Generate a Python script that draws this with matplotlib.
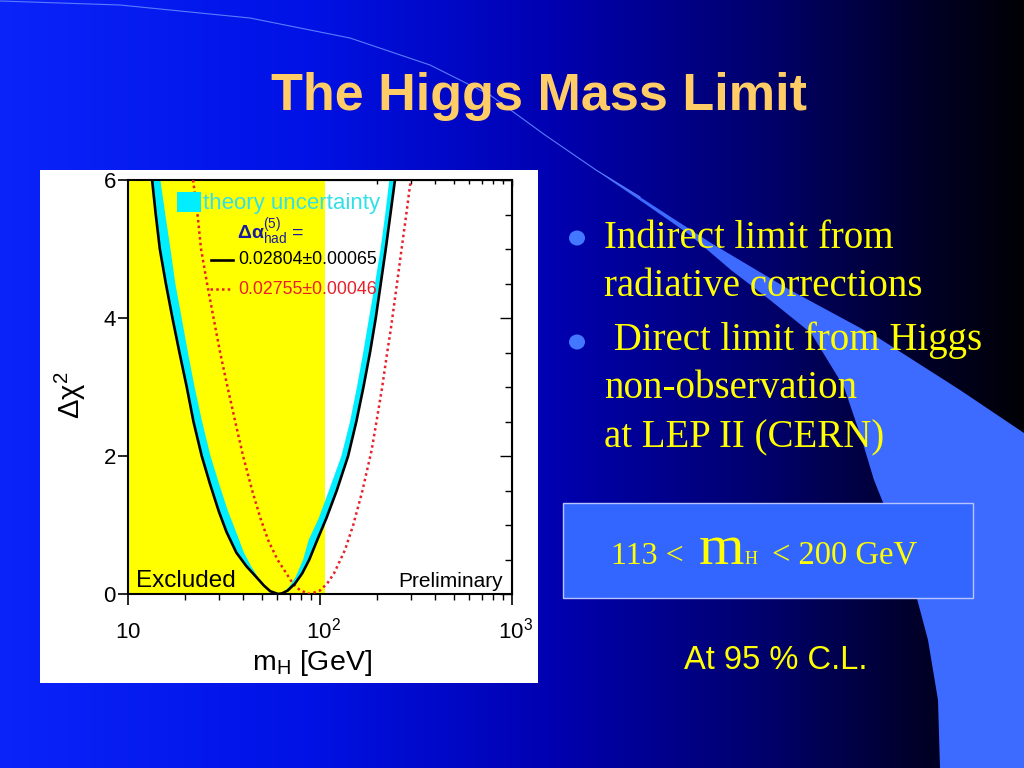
import numpy as np
import matplotlib
matplotlib.use("Agg")
import matplotlib.pyplot as plt
from matplotlib.patches import Rectangle, Polygon, Ellipse
from matplotlib.ticker import MultipleLocator, NullFormatter

plt.rcParams['font.family'] = ['Liberation Sans', 'DejaVu Sans']
plt.rcParams['mathtext.fontset'] = 'custom'
plt.rcParams['mathtext.rm'] = 'Liberation Sans'
plt.rcParams['mathtext.it'] = 'Liberation Sans:italic'
plt.rcParams['mathtext.bf'] = 'Liberation Sans:bold'

# ---------------- data ----------------
# full fit, Delta alpha_had = 0.02804 +- 0.00065 (black solid)
black_mh = [13.4, 14.0, 14.7, 15.8, 17.1, 18.6, 20.3, 22.0, 24.3, 26.8, 29.8,
            32.7, 36.8, 41.6, 46.6, 51.3, 55.3, 60.7,
            63.8, 68.1, 74.3, 81.1, 88.3, 97.0, 108.4, 122.7, 140.6, 155.2,
            169.0, 182.8, 195.9, 208.0, 220.8, 233.4, 246.6]
black_dchi2 = [6.0, 5.5, 5.0, 4.5, 4.0, 3.5, 3.0, 2.5, 2.0, 1.6, 1.2,
               0.9, 0.6, 0.4, 0.25, 0.12, 0.04, 0.0,
               0.01, 0.05, 0.15, 0.3, 0.5, 0.78, 1.1, 1.5, 2.0, 2.5,
               3.0, 3.5, 4.0, 4.5, 5.0, 5.5, 6.0]
# inner edge of the theory-uncertainty band (cyan)
band_mh = [14.8, 15.7, 16.7, 17.7, 19.1, 20.6, 22.3, 24.4, 27.0, 29.9, 33.3,
           36.7, 40.3, 44.0, 47.5, 52.0, 55.8, 61.0,
           64.4, 69.2, 75.0, 82.0, 87.5, 98.9, 111.7, 129.7, 143.9, 156.3,
           168.5, 180.7, 194.1, 207.5, 219.3, 230.5]
band_dchi2 = [6.0, 5.5, 5.0, 4.5, 4.0, 3.5, 3.0, 2.5, 2.0, 1.6, 1.2,
              0.9, 0.6, 0.4, 0.25, 0.12, 0.04, 0.0,
              0.02, 0.1, 0.25, 0.5, 0.78, 1.1, 1.5, 2.0, 2.5, 3.0,
              3.5, 4.0, 4.5, 5.0, 5.5, 6.0]
# Delta alpha_had = 0.02755 +- 0.00046 (red dotted)
red_mh = [21.9, 23.1, 24.1, 25.9, 28.0, 30.3, 33.1, 36.3, 39.9, 44.5, 49.1,
          53.9, 60.2, 67.0, 72.5, 79.3, 89.0,
          100.2, 109.3, 118.8, 135.5, 149.5, 167.0, 186.6, 197.6, 211.6,
          224.7, 234.4, 252.7, 264.3, 282.4, 297.9]
red_dchi2 = [6.0, 5.5, 5.0, 4.5, 4.0, 3.5, 3.0, 2.5, 2.0, 1.5, 1.1,
             0.78, 0.5, 0.3, 0.15, 0.05, 0.0,
             0.05, 0.15, 0.3, 0.64, 1.0, 1.5, 2.09, 2.5, 3.0,
             3.5, 3.83, 4.5, 4.91, 5.5, 6.0]
# LEP direct-search excluded region (yellow)
excluded_mh = [10.0, 107.0]

x_ticks = [10, 100, 1000]
x_ticklabels = [r'$10$', r'$\:\:10^{2}$', r'$\:\:10^{3}$']
y_ticks = [0, 2, 4, 6]
y_ticklabels = ['0', '2', '4', '6']

title = "The Higgs Mass Limit"
bullets = [["Indirect limit from", "radiative corrections"],
           [" Direct limit from Higgs", "non-observation", "at LEP II (CERN)"]]

# ---------------- figure & slide background ----------------
W, H = 1024, 768
fig = plt.figure(figsize=(W / 100, H / 100), dpi=100)
bg = fig.add_axes([0, 0, 1, 1], zorder=0)
bg.set_xlim(0, W)
bg.set_ylim(H, 0)
bg.axis('off')

stops = np.array([0.0, 0.3, 0.55, 0.75, 0.9, 1.0])
cols = np.array([[0.04, 0.14, 0.98],
                 [0.00, 0.07, 0.90],
                 [0.00, 0.00, 0.68],
                 [0.00, 0.00, 0.42],
                 [0.00, 0.00, 0.16],
                 [0.00, 0.00, 0.02]])
xs = np.linspace(0, 1, 512)
grad = np.stack([np.interp(xs, stops, cols[:, k]) for k in range(3)], axis=-1)
grad = np.repeat(grad[None, :, :], 4, axis=0)
bg.imshow(grad, extent=[0, W, H, 0], aspect='auto', interpolation='bilinear', zorder=0)

swoosh = [(596, 170), (640, 197), (711, 243), (790, 290), (877, 337), (960, 390),
          (1024, 433), (1024, 768), (940, 768), (938, 700), (928, 640), (912, 580),
          (890, 520), (874, 480), (861, 437), (844, 387), (811, 333), (770, 300),
          (731, 270), (690, 235), (644, 203), (610, 180)]
bg.add_patch(Polygon(swoosh, closed=True, facecolor='#3D6BFF', edgecolor='none', zorder=1))
arc = np.array([(0, 1), (120, 5), (250, 18), (350, 38), (430, 65), (490, 95),
                (545, 135), (596, 170), (640, 197)])
bg.plot(arc[:, 0], arc[:, 1], color='#5A7CFF', lw=0.8, zorder=1)

bg.text(539, 110, title, ha='center', va='baseline', fontsize=37.5, fontweight='bold',
        color='#FFCC66', zorder=3)

# bullets
line_y = [[248, 296], [350, 398, 447]]
bullet_y = [238, 342]
serif = ['Liberation Serif', 'DejaVu Serif']
for bl, ys, by in zip(bullets, line_y, bullet_y):
    bg.add_patch(Ellipse((577, by), 16, 15, facecolor='#4477FF', edgecolor='none', zorder=3))
    for txt, yy in zip(bl, ys):
        bg.text(604, yy, txt, ha='left', va='baseline', fontsize=28, color='#FFFF00',
                family=serif, zorder=3)

# result box
bg.add_patch(Rectangle((563, 503), 410, 95, facecolor='#3366FF', edgecolor='#B8C4FF',
                       lw=1.0, zorder=2))
bg.text(611, 564, "113 <", ha='left', va='baseline', fontsize=23, color='#FFFF00', family=serif, zorder=3)
bg.text(699, 564, "m", ha='left', va='baseline', fontsize=42, color='#FFFF00', family=serif, zorder=3)
bg.text(745, 564, "H", ha='left', va='baseline', fontsize=13, color='#FFFF00', family=serif, zorder=3)
bg.text(772, 564, "< 200 GeV", ha='left', va='baseline', fontsize=23.5, color='#FFFF00', family=serif, zorder=3)

bg.text(776, 669, "At 95 % C.L.", ha='center', va='baseline', fontsize=23.5, color='#FFFF00',
        zorder=3)

# white panel behind the chart
bg.add_patch(Rectangle((40, 170), 498, 513, facecolor='white', edgecolor='none', zorder=2))

# ---------------- chart ----------------
x0, x1, y0, y1 = 127.7, 511.7, 594.0, 180.0
ax = fig.add_axes([x0 / W, 1 - y0 / H, (x1 - x0) / W, (y0 - y1) / H], zorder=2)
ax.set_facecolor('white')
ax.set_xscale('log')
ax.set_xlim(10, 1000)
ax.set_ylim(0, 6)

ax.axvspan(excluded_mh[0], excluded_mh[1], color='#FFFF00', lw=0, zorder=1)

band_x = list(black_mh) + list(band_mh[::-1])
band_y = list(black_dchi2) + list(band_dchi2[::-1])
ax.fill(band_x, band_y, color='#00EEFF', lw=0, zorder=2)
ax.plot(black_mh, black_dchi2, color='black', lw=1.9, zorder=4, solid_joinstyle='round')
ax.plot(red_mh, red_dchi2, color='#E8202A', lw=1.8, ls=(0, (1.0, 1.3)), zorder=3)

for s in ax.spines.values():
    s.set_linewidth(1.5)

ax.set_xticks(x_ticks, labels=x_ticklabels)
ax.set_yticks(y_ticks, labels=y_ticklabels)
ax.tick_params(axis='x', which='major', direction='out', length=8, width=1.2, pad=24,
               labelsize=16, top=False)
ax.tick_params(axis='x', which='minor', direction='out', length=4.5, width=1.0, top=False)
for t in ax.get_xticklabels():
    t.set_va('baseline')
ax.tick_params(axis='y', which='major', direction='out', length=7, width=1.2, pad=1.5,
               labelsize=16, right=False)
ax.yaxis.set_minor_locator(MultipleLocator(0.5))
ax.tick_params(axis='y', which='minor', left=False, right=False)

sx = ax.secondary_xaxis('top')
sx.tick_params(which='major', direction='in', length=4.5, width=1.0, labeltop=False)
sx.tick_params(which='minor', direction='in', length=3, width=1.0)
sx.xaxis.set_major_formatter(NullFormatter())
sx.xaxis.set_minor_formatter(NullFormatter())
sy = ax.secondary_yaxis('right')
sy.set_yticks(y_ticks)
sy.yaxis.set_minor_locator(MultipleLocator(0.5))
sy.tick_params(which='major', direction='in', length=8.5, width=1.0, labelright=False)
sy.tick_params(which='minor', direction='in', length=5, width=1.0)

ax.set_ylabel(r'$\mathrm{\Delta\chi}^{2}$', fontsize=21, rotation=90, ha='center',
              va='center', rotation_mode='default')
ax.yaxis.set_label_coords((70 - x0) / (x1 - x0), (y0 - 395) / (y0 - y1))
ax.set_xlabel(r'$\mathrm{m}_{\mathrm{H}}$ [GeV]', fontsize=20.5, va='baseline')
ax.xaxis.set_label_coords((312 - x0) / (x1 - x0), (y0 - 670) / (y0 - y1))

def afrac(px, py):
    return (px - x0) / (x1 - x0), (y0 - py) / (y0 - y1)

# legend
lx, ly = afrac(177, 212)
ax.add_patch(Rectangle((lx, ly), 24 / (x1 - x0), 20 / (y0 - y1), transform=ax.transAxes,
                       facecolor='#00EEFF', edgecolor='none', zorder=6))
tx, ty = afrac(203, 203)
ax.text(tx, ty, "theory uncertainty", transform=ax.transAxes, fontsize=16,
        color='#33E0E8', ha='left', va='center', zorder=6)
tx, ty = afrac(237, 232)
ax.text(tx, ty, r'$\mathbf{\Delta\alpha}^{(5)}_{\mathrm{had}}$ =', transform=ax.transAxes,
        fontsize=14, color='#1A1AA0', ha='left', va='center', zorder=6)
ax1x, ay = afrac(211, 260)
ax2x, _ = afrac(233, 260)
ax.plot([ax1x, ax2x], [ay, ay], color='black', lw=1.9, transform=ax.transAxes, zorder=6)
tx, ty = afrac(238, 260)
ax.text(tx, ty, "0.02804\u00b10.00065", transform=ax.transAxes, fontsize=12.8,
        color='black', ha='left', va='center', zorder=6)
bx1, by = afrac(210, 289)
bx2, _ = afrac(233, 289)
ax.plot([bx1, bx2], [by, by], color='#E8202A', lw=1.8, ls=(0, (1.0, 1.3)),
        transform=ax.transAxes, zorder=6)
tx, ty = afrac(238, 289)
ax.text(tx, ty, "0.02755\u00b10.00046", transform=ax.transAxes, fontsize=12.8,
        color='#E8202A', ha='left', va='center', zorder=6)

tx, ty = afrac(136, 587)
ax.text(tx, ty, "Excluded", transform=ax.transAxes, fontsize=17.5, color='black',
        ha='left', va='baseline', zorder=6)
tx, ty = afrac(503, 587)
ax.text(tx, ty, "Preliminary", transform=ax.transAxes, fontsize=15, color='black',
        ha='right', va='baseline', zorder=6)

fig.savefig('out.png', dpi=100)
